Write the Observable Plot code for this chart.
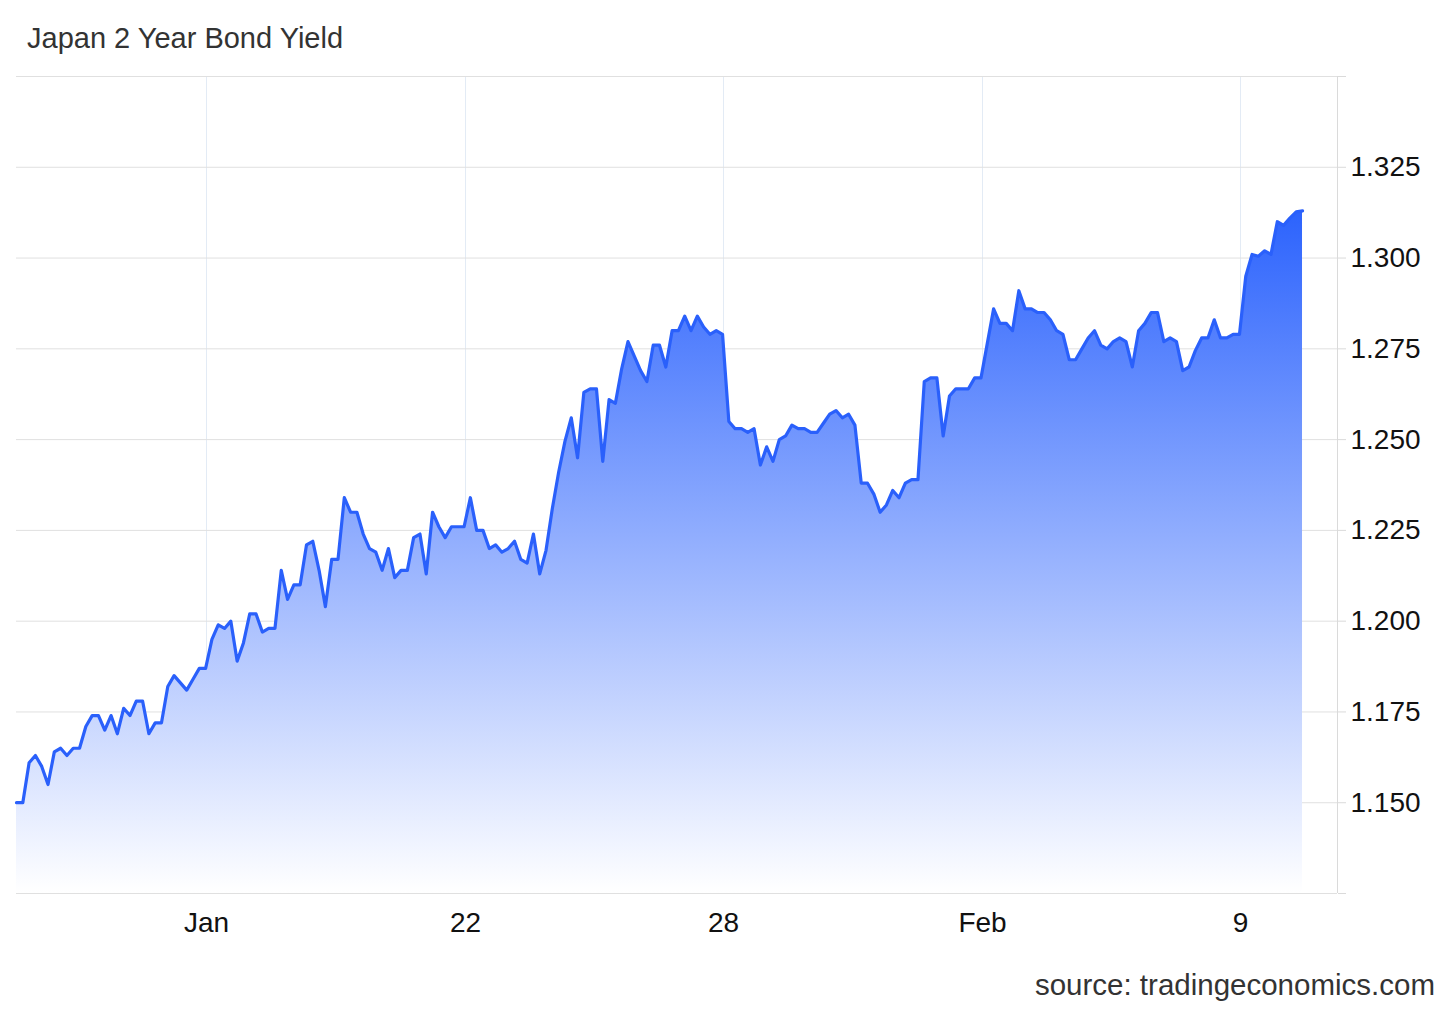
<!DOCTYPE html>
<html>
<head>
<meta charset="utf-8">
<script src="https://cdn.jsdelivr.net/npm/d3@7"></script>
<script src="https://cdn.jsdelivr.net/npm/@observablehq/plot@0.6"></script>
<style>
  body { margin: 0; background: #fff; font-family: "Liberation Sans", Arial, sans-serif; }
  #wrap { position: relative; width: 1456px; height: 1009px; }
  #title { position: absolute; left: 27px; top: 22px; font-size: 29px; line-height: 32px; color: #333; }
  #chart { position: absolute; left: 0; top: 60px; }
  #source { position: absolute; right: 21px; top: 969px; font-size: 29.5px; line-height: 32px; color: #333; }
</style>
</head>
<body>
<div id="wrap">
  <div id="title">Japan 2 Year Bond Yield</div>
  <div id="chart"></div>
  <div id="source">source: tradingeconomics.com</div>
</div>
<script>
// yield readings, in order (evenly spaced intraday points)
const yields = [
  1.150, 1.150, 1.161, 1.163, 1.160, 1.155, 1.164, 1.165, 1.163, 1.165,
  1.165, 1.171, 1.174, 1.174, 1.170, 1.174, 1.169, 1.176, 1.174, 1.178,
  1.178, 1.169, 1.172, 1.172, 1.182, 1.185, 1.183, 1.181, 1.184, 1.187,
  1.187, 1.195, 1.199, 1.198, 1.200,
  1.189, 1.194, 1.202, 1.202, 1.197, 1.198, 1.198, 1.214, 1.206, 1.210,
  1.210, 1.221, 1.222, 1.214, 1.204, 1.217, 1.217, 1.234, 1.230, 1.230,
  1.224, 1.220, 1.219, 1.214, 1.220, 1.212, 1.214, 1.214, 1.223, 1.224,
  1.213, 1.230, 1.226, 1.223,
  1.226, 1.226, 1.226, 1.234, 1.225, 1.225, 1.220, 1.221, 1.219, 1.220,
  1.222, 1.217, 1.216, 1.224, 1.213, 1.2195, 1.231, 1.241, 1.2495, 1.256,
  1.245, 1.263, 1.264, 1.264, 1.244, 1.261, 1.260, 1.2695, 1.277, 1.273,
  1.269, 1.266, 1.276, 1.276, 1.270,
  1.280, 1.280, 1.284, 1.280, 1.284, 1.281, 1.279, 1.280, 1.279, 1.255,
  1.253, 1.253, 1.252, 1.253, 1.243, 1.248, 1.244, 1.250, 1.251, 1.254,
  1.253, 1.253, 1.252, 1.252, 1.2545, 1.257, 1.258, 1.256, 1.257, 1.254,
  1.238, 1.238, 1.235, 1.230, 1.232,
  1.236, 1.234, 1.238, 1.239, 1.239,
  1.266, 1.267, 1.267, 1.251, 1.262, 1.264, 1.264, 1.264, 1.267, 1.267,
  1.2765, 1.286, 1.282, 1.282, 1.280, 1.291, 1.286, 1.286, 1.285, 1.285,
  1.283, 1.280, 1.279, 1.272, 1.272, 1.275, 1.278, 1.280, 1.276,
  1.275, 1.277, 1.278, 1.277, 1.270, 1.280, 1.282, 1.285, 1.285, 1.277,
  1.278, 1.277, 1.269, 1.270, 1.2745, 1.278, 1.278, 1.283, 1.278, 1.278,
  1.279, 1.279, 1.295, 1.301, 1.3005, 1.302, 1.301, 1.310, 1.309, 1.311,
  1.3127, 1.313
];

// x tick positions (in point index) and their labels
const tickPos = [30.14, 71.23, 112.15, 153.24, 194.16];
const tickLabels = ["Jan", "22", "28", "Feb", "9"];

// y grid values; outer two carry no label
const gridVals = [1.125, 1.15, 1.175, 1.2, 1.225, 1.25, 1.275, 1.3, 1.325, 1.35];

const xEnd = 209.55;
const rows = yields.map((v, i) => ({i, v}));
const labelOf = new Map(tickPos.map((p, k) => [p, tickLabels[k]]));
const fmt = d3.format(".3f");

const fade = () => {
  const defs = d3.create("svg:defs");
  const g = defs.append("linearGradient")
    .attr("id", "jgbFade")
    .attr("x1", 0).attr("y1", 0).attr("x2", 0).attr("y2", 1);
  g.append("stop").attr("offset", "0%").attr("stop-color", "#2c63fd");
  g.append("stop").attr("offset", "100%").attr("stop-color", "#ffffff");
  return defs.node();
};

const chart = Plot.plot({
  width: 1456,
  height: 900,
  marginTop: 16,
  marginBottom: 67,
  marginLeft: 16,
  marginRight: 119,
  style: {
    fontFamily: "Liberation Sans, Arial, sans-serif",
    fontSize: "28px",
    color: "#111",
    background: "transparent",
  },
  x: {domain: [0, xEnd], axis: null},
  y: {domain: [1.125, 1.35], axis: null},
  marks: [
    fade,
    Plot.ruleX(tickPos, {stroke: "#e3ebf5"}),
    Plot.ruleY(gridVals, {stroke: "#e0e0e0"}),
    Plot.ruleX([xEnd], {stroke: "#dadada"}),
    Plot.areaY(rows, {x: "i", y1: 1.125, y2: "v", fill: "url(#jgbFade)"}),
    Plot.lineY(rows, {x: "i", y: "v", stroke: "#2a60fb", strokeWidth: 3.2}),
    Plot.axisY(gridVals, {
      anchor: "right",
      label: null,
      tickSize: 8,
      tickPadding: 5,
      stroke: "#dadada",
      fill: "#111",
      tickFormat: (d) => (d < 1.14 || d > 1.34 ? "" : fmt(d)),
    }),
    Plot.axisX(tickPos, {
      anchor: "bottom",
      label: null,
      tickSize: 0,
      tickPadding: 19,
      fill: "#111",
      tickFormat: (d) => labelOf.get(d),
    }),
  ],
});

d3.select("#chart").append(() => chart);
</script>
</body>
</html>
